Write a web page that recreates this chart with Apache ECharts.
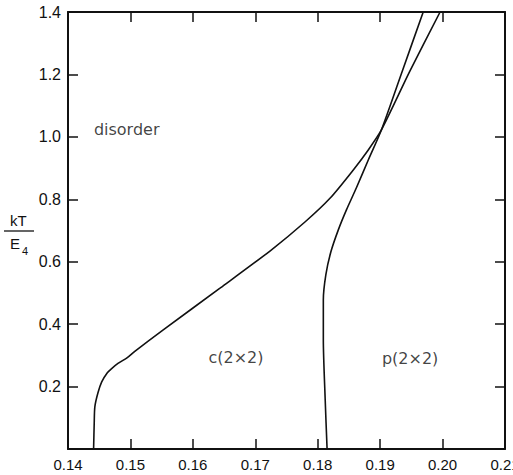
<!DOCTYPE html>
<html>
<head>
<meta charset="utf-8">
<script src="https://cdn.jsdelivr.net/npm/echarts@6/dist/echarts.min.js"></script>
<style>
  html, body { margin: 0; padding: 0; background: #fff; }
  #chart { width: 513px; height: 475px; }
</style>
</head>
<body>
<div id="chart"></div>
<script>
// c(2x2) / disorder boundary
var cX = [0.1441, 0.1442, 0.1443, 0.1448, 0.1454, 0.1463, 0.1469, 0.1480, 0.1495, 0.1507, 0.1552, 0.1644, 0.1724, 0.1780, 0.1820, 0.1857, 0.1881, 0.1902, 0.1948, 0.1996];
var cY = [0, 0.083, 0.135, 0.180, 0.215, 0.244, 0.256, 0.274, 0.293, 0.313, 0.381, 0.516, 0.635, 0.728, 0.804, 0.894, 0.958, 1.022, 1.212, 1.40];
// p(2x2) boundary
var pX = [0.1815, 0.1812, 0.1809, 0.1809, 0.1813, 0.1821, 0.1833, 0.1846, 0.1862, 0.1881, 0.1902, 0.1935, 0.1969];
var pY = [0, 0.157, 0.349, 0.478, 0.558, 0.631, 0.702, 0.766, 0.837, 0.926, 1.022, 1.208, 1.40];

var regionLabels = ['disorder', 'c(2×2)', 'p(2×2)'];
var regionX = [0.1494, 0.1669, 0.1948];
var regionY = [1.025, 0.293, 0.291];

function pairs(xs, ys) {
  return xs.map(function(x, i) { return [x, ys[i]]; });
}

var ink = '#111';
var font = 'Liberation Sans, Arial, sans-serif';

var chart = echarts.init(document.getElementById('chart'), null, { renderer: 'svg' });

var axisBase = {
  type: 'value',
  axisLine: { onZero: false, lineStyle: { color: ink, width: 2 } },
  axisTick: { inside: true, length: 10, lineStyle: { color: ink, width: 1.5 } },
  splitLine: { show: false }
};

chart.setOption({
  animation: false,
  grid: { left: 68, right: 8, top: 12, bottom: 26, containLabel: false, outerBoundsMode: 'none' },
  xAxis: [
    Object.assign({}, axisBase, {
      min: 0.14, max: 0.21, interval: 0.01, position: 'bottom',
      axisLabel: {
        color: ink, fontSize: 15, fontFamily: font, margin: 8,
        formatter: function(v) { return v.toFixed(2); }
      }
    }),
    Object.assign({}, axisBase, {
      min: 0.14, max: 0.21, interval: 0.01, position: 'top',
      axisLabel: { show: false }
    })
  ],
  yAxis: [
    Object.assign({}, axisBase, {
      min: 0, max: 1.4, interval: 0.2, position: 'left',
      axisLabel: {
        color: ink, fontSize: 16, fontFamily: font, margin: 7,
        formatter: function(v) { return v === 0 ? '' : v.toFixed(1); }
      }
    }),
    Object.assign({}, axisBase, {
      min: 0, max: 1.4, interval: 0.2, position: 'right',
      axisLabel: { show: false }
    })
  ],
  series: [
    {
      type: 'line',
      data: pairs(cX, cY),
      smooth: 0.25,
      showSymbol: false,
      lineStyle: { color: ink, width: 1.6 }
    },
    {
      type: 'line',
      data: pairs(pX, pY),
      smooth: 0.25,
      showSymbol: false,
      lineStyle: { color: ink, width: 1.6 }
    },
    {
      type: 'scatter',
      symbolSize: 0,
      data: regionLabels.map(function(t, i) { return { value: [regionX[i], regionY[i]], name: t }; }),
      label: {
        show: true,
        position: 'inside',
        formatter: '{b}',
        color: ink,
        fontSize: 16,
        fontFamily: 'DejaVu Sans, sans-serif'
      }
    }
  ],
  graphic: [
    { type: 'text', left: 10, top: 213, style: { text: 'kT', fill: ink, font: '15px ' + font } },
    { type: 'line', shape: { x1: 4, y1: 231, x2: 34, y2: 231 }, style: { stroke: ink, lineWidth: 1.3 } },
    { type: 'text', left: 10, top: 236, style: { text: 'E', fill: ink, font: '15px ' + font } },
    { type: 'text', left: 22, top: 245, style: { text: '4', fill: ink, font: '11px ' + font } }
  ]
});
</script>
</body>
</html>
